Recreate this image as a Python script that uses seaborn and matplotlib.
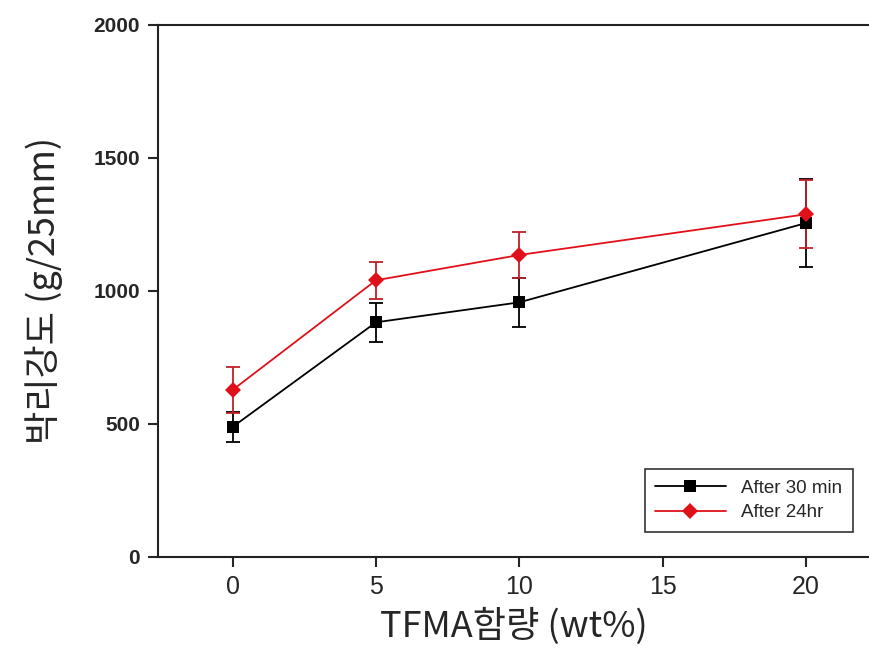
import matplotlib
matplotlib.use("Agg")
import matplotlib.pyplot as plt
import seaborn as sns
import pandas as pd

content = [0, 5, 10, 20]
after_30min = [489, 882, 957, 1255]
err_30min = [57, 74, 92, 165]
after_24hr = [628, 1040, 1135, 1288]
err_24hr = [85, 70, 88, 128]
yticks = [0, 500, 1000, 1500, 2000]
xticks = [0, 5, 10, 15, 20]

sns.set_style("ticks")
plt.rcParams['font.family'] = ['Liberation Sans', 'Noto Sans CJK KR', 'DejaVu Sans']

df = pd.DataFrame({
    'x': content * 2,
    'y': after_30min + after_24hr,
    'series': ['After 30 min'] * 4 + ['After 24hr'] * 4,
})

fig = plt.figure(figsize=(8.69, 6.66), dpi=100)
ax = fig.add_axes([0.182, 0.1637, 0.818, 0.799])

ax.errorbar(content, after_30min, yerr=err_30min, fmt='none', ecolor='black',
            elinewidth=1.3, capsize=5, capthick=1.3, zorder=2)
ax.errorbar(content, after_24hr, yerr=err_24hr, fmt='none', ecolor='#c0202a',
            elinewidth=1.3, capsize=5, capthick=1.3, zorder=2)

sns.lineplot(data=df, x='x', y='y', hue='series', style='series',
             palette={'After 30 min': 'black', 'After 24hr': '#e0101a'},
             markers={'After 30 min': 's', 'After 24hr': 'D'},
             dashes=False, markersize=8, markeredgewidth=0, linewidth=1.3,
             ax=ax, zorder=3)

ax.set_xlim(-2.6, 22.2)
ax.set_ylim(0, 2000)
ax.set_xticks(xticks)
ax.set_yticks(yticks)
ax.set_xticklabels([str(t) for t in xticks], fontsize=18,
                   family=['Liberation Sans Narrow', 'Liberation Sans', 'DejaVu Sans'])
ax.set_yticklabels([str(t) for t in yticks], fontsize=15, fontweight='bold',
                   family=['Liberation Sans', 'DejaVu Sans'])

for s in ['left', 'bottom', 'top']:
    ax.spines[s].set_linewidth(1.5)
    ax.spines[s].set_color('#222222')
ax.spines['right'].set_visible(False)
ax.tick_params(axis='both', direction='out', length=7, width=1.5, pad=6)

ax.set_xlabel('TFMA함량 (wt%)', fontsize=26,
              family=['Noto Sans CJK KR', 'DejaVu Sans'], labelpad=6)
ax.set_ylabel('박리강도 (g/25mm)', fontsize=26,
              family=['Noto Sans CJK KR', 'DejaVu Sans'], labelpad=22)

leg = ax.legend(loc='lower right', bbox_to_anchor=(0.99, 0.03), fontsize=13.5,
                frameon=True, fancybox=False, edgecolor='black',
                handlelength=3.8, borderpad=0.55, labelspacing=0.4)
leg.get_frame().set_linewidth(1.2)
leg.set_title(None)

fig.savefig('out.png', dpi=100)
